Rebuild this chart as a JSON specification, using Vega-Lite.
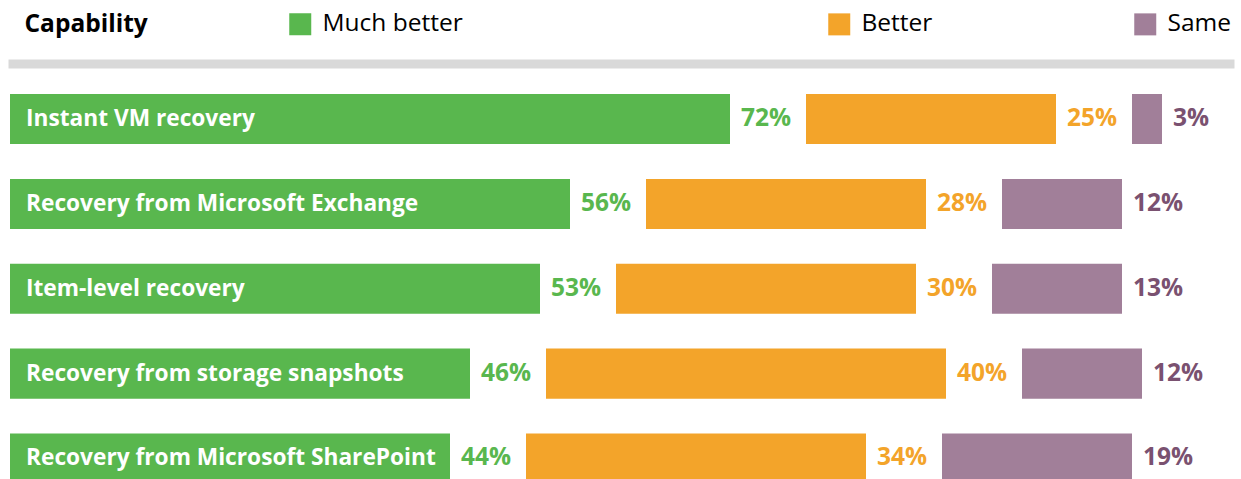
{
  "$schema": "https://vega.github.io/schema/vega-lite/v6.json",
  "autosize": "none",
  "width": 1226,
  "height": 420,
  "padding": {"left": 8, "top": 63.5, "right": 7, "bottom": 0},
  "background": "white",
  "config": {"view": {"stroke": null}, "font": "Open Sans"},
  "data": {
    "values": [
      {"capability": "Instant VM recovery", "category": "Much better", "value": 72},
      {"capability": "Instant VM recovery", "category": "Better", "value": 25},
      {"capability": "Instant VM recovery", "category": "Same", "value": 3},
      {"capability": "Recovery from Microsoft Exchange", "category": "Much better", "value": 56},
      {"capability": "Recovery from Microsoft Exchange", "category": "Better", "value": 28},
      {"capability": "Recovery from Microsoft Exchange", "category": "Same", "value": 12},
      {"capability": "Item-level recovery", "category": "Much better", "value": 53},
      {"capability": "Item-level recovery", "category": "Better", "value": 30},
      {"capability": "Item-level recovery", "category": "Same", "value": 13},
      {"capability": "Recovery from storage snapshots", "category": "Much better", "value": 46},
      {"capability": "Recovery from storage snapshots", "category": "Better", "value": 40},
      {"capability": "Recovery from storage snapshots", "category": "Same", "value": 12},
      {"capability": "Recovery from Microsoft SharePoint", "category": "Much better", "value": 44},
      {"capability": "Recovery from Microsoft SharePoint", "category": "Better", "value": 34},
      {"capability": "Recovery from Microsoft SharePoint", "category": "Same", "value": 19}
    ]
  },
  "transform": [
    {"calculate": "indexof(['Much better','Better','Same'], datum.category)", "as": "rank"},
    {"window": [{"op": "sum", "field": "value", "as": "cum"}], "groupby": ["capability"], "sort": [{"field": "rank"}], "frame": [null, 0]},
    {"calculate": "datum.cum - datum.value + datum.rank * 7.6", "as": "start"},
    {"calculate": "datum.cum + datum.rank * 7.6", "as": "end"},
    {"calculate": "datum.value + '%'", "as": "label"}
  ],
  "encoding": {
    "y": {
      "field": "capability", "type": "nominal", "sort": null,
      "scale": {"paddingInner": 0.41, "paddingOuter": 0.18, "align": 1},
      "axis": {
        "title": "Capability", "labels": false, "ticks": false, "domain": false, "grid": false,
        "titleAngle": 0, "titleAlign": "left", "titleBaseline": "alphabetic",
        "titleX": 16, "titleY": -32.5, "titleFont": "Open Sans", "titleFontSize": 24.5,
        "titleFontWeight": "bold", "titleColor": "#000000"
      }
    }
  },
  "layer": [
    {
      "transform": [{"filter": "datum.category == 'Much better'"}],
      "mark": {"type": "bar"},
      "encoding": {
        "x": {"field": "start", "type": "quantitative", "scale": {"domain": [-0.2, 122.4], "nice": false, "zero": false},
              "axis": {"orient": "top", "title": null, "labels": false, "ticks": false, "grid": false, "domainColor": "#D9D9D9", "domainWidth": 9}},
        "x2": {"field": "end"},
        "fill": {"field": "category", "type": "nominal",
                 "scale": {"domain": ["Much better"], "range": ["#59B74E"]},
                 "legend": {"title": null, "orient": "none", "legendX": 280, "legendY": -51.5, "direction": "horizontal",
                            "symbolType": "square", "symbolSize": 484, "symbolStrokeWidth": 0, "padding": 0,
                            "labelFont": "Open Sans", "labelFontSize": 24.5, "labelColor": "#000000", "labelOffset": 10}}
      }
    },
    {
      "transform": [{"filter": "datum.category != 'Much better'"}],
      "mark": {"type": "bar"},
      "encoding": {
        "x": {"field": "start", "type": "quantitative",
              "axis": {"orient": "top", "title": null, "labels": false, "ticks": false, "grid": false, "domainColor": "#D9D9D9", "domainWidth": 9}},
        "x2": {"field": "end"},
        "color": {"field": "category", "type": "nominal",
                  "scale": {"domain": ["Better", "Same"], "range": ["#F3A42A", "#A17F99"]},
                  "legend": {"title": null, "orient": "none", "legendX": 819, "legendY": -51.5, "direction": "horizontal",
                             "symbolType": "square", "symbolSize": 484, "symbolStrokeWidth": 0, "padding": 0, "columnPadding": 200,
                             "labelFont": "Open Sans", "labelFontSize": 24.5, "labelColor": "#000000", "labelOffset": 10}}
      }
    },
    {
      "mark": {"type": "text", "align": "left", "baseline": "middle", "dx": 11, "fontWeight": "bold", "fontSize": 24.5, "font": "Open Sans"},
      "encoding": {
        "x": {"field": "end", "type": "quantitative",
              "axis": {"orient": "top", "title": null, "labels": false, "ticks": false, "grid": false, "domainColor": "#D9D9D9", "domainWidth": 9}},
        "text": {"field": "label"},
        "color": {
          "condition": [
            {"test": "datum.category == 'Much better'", "value": "#59B74E"},
            {"test": "datum.category == 'Better'", "value": "#F3A42A"}
          ],
          "value": "#7A5170"
        }
      }
    },
    {
      "transform": [{"filter": "datum.category == 'Much better'"}],
      "mark": {"type": "text", "align": "left", "baseline": "middle", "dx": 16, "fontWeight": "bold", "fontSize": 22.7, "font": "Open Sans", "color": "#FFFFFF"},
      "encoding": {
        "x": {"field": "start", "type": "quantitative",
              "axis": {"orient": "top", "title": null, "labels": false, "ticks": false, "grid": false, "domainColor": "#D9D9D9", "domainWidth": 9}},
        "text": {"field": "capability"}
      }
    }
  ]
}
